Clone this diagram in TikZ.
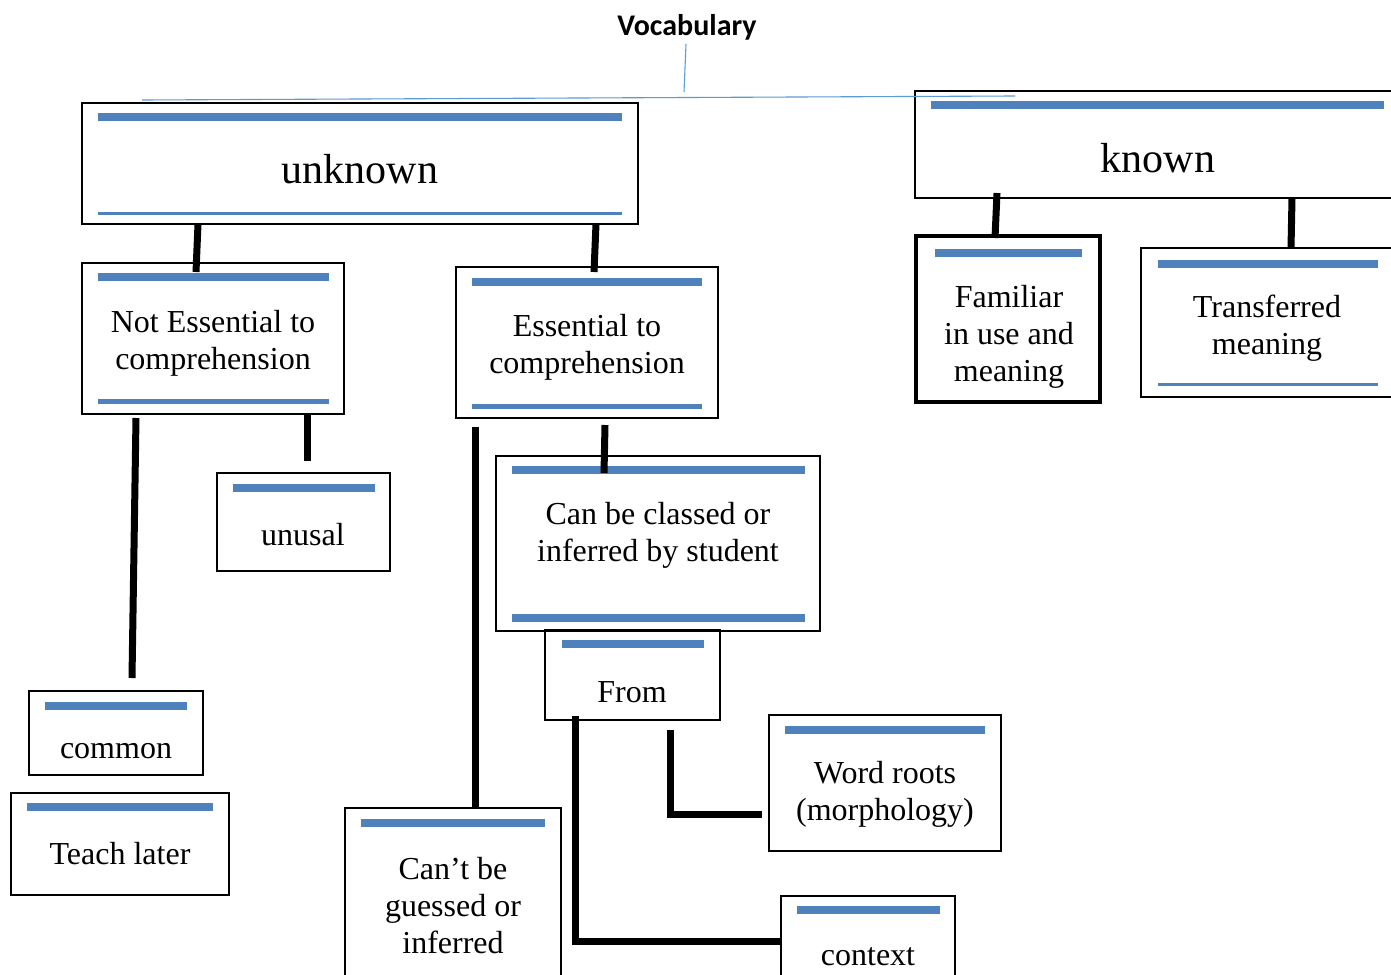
\documentclass[tikz,border=0pt]{standalone}
\usepackage{fontspec}
\setmainfont{Liberation Serif}
\newfontfamily\vocabfont{Carlito}
\definecolor{barblue}{RGB}{79,129,189}
\definecolor{lineblue}{RGB}{91,155,213}
\begin{document}
\begin{tikzpicture}[x=1pt,y=-1pt,
  box/.style={draw=black, line width=1.8pt, rectangle, inner sep=0pt, outer sep=0pt, anchor=north west},
  conn/.style={draw=black, line width=7pt},
  bar/.style={draw=barblue, line width=8pt},
  thinbar/.style={draw=barblue, line width=3pt},
  midbar/.style={draw=barblue, line width=5pt},
  txt/.style={font=\fontsize{32}{37}\selectfont, align=center, inner sep=0pt},
  bigtxt/.style={font=\fontsize{42}{48}\selectfont, inner sep=0pt}]
\useasboundingbox (0,0) rectangle (1391,974);
\clip (0,0) rectangle (1391,974);
\fill[white] (0,0) rectangle (1391,974);

% boxes
\node[box, minimum width=556pt, minimum height=121pt] (unk) at (82,103) {};
\node[box, minimum width=490pt, minimum height=107pt] (known) at (915,91) {};
\node[box, line width=4.5pt, minimum width=184pt, minimum height=166pt] (fam) at (916,236) {};
\node[box, minimum width=262pt, minimum height=149pt] (trans) at (1141,248) {};
\node[box, minimum width=262pt, minimum height=151pt] (notess) at (82,263) {};
\node[box, minimum width=262pt, minimum height=151pt] (ess) at (456,267) {};
\node[box, minimum width=173pt, minimum height=98pt] (unusal) at (217,473) {};
\node[box, minimum width=174pt, minimum height=84pt] (common) at (29,691) {};
\node[box, minimum width=218pt, minimum height=102pt] (teach) at (11,793) {};
\node[box, minimum width=324pt, minimum height=175pt] (canbe) at (496,456) {};
\node[box, minimum width=216pt, minimum height=180pt] (cant) at (345,808) {};
\node[box, minimum width=175pt, minimum height=90pt] (from) at (545,630) {};
\node[box, minimum width=232pt, minimum height=136pt] (word) at (769,715) {};
\node[box, minimum width=174pt, minimum height=90pt] (context) at (781,896) {};

% blue bars
\draw[bar] (98,117) -- (622,117);
\draw[thinbar] (98,213) -- (622,213);
\draw[bar] (931,105) -- (1384,105);
\draw[bar] (935,253) -- (1082,253);
\draw[bar] (1158,263.5) -- (1378,263.5);
\draw[thinbar] (1158,384.5) -- (1378,384.5);
\draw[bar] (98,276.5) -- (329,276.5);
\draw[midbar] (98,401.5) -- (329,401.5);
\draw[bar] (472,281.5) -- (702,281.5);
\draw[midbar] (472,406.5) -- (702,406.5);
\draw[bar] (233,488) -- (375,488);
\draw[bar] (45,705.5) -- (187,705.5);
\draw[bar] (27,807) -- (213,807);
\draw[bar] (512,469.5) -- (805,469.5);
\draw[bar] (512,618) -- (805,618);
\draw[bar] (361,823) -- (545,823);
\draw[bar] (562,644) -- (704,644);
\draw[bar] (785,729.5) -- (985,729.5);
\draw[bar] (797,910) -- (940,910);

% texts
\node[inner sep=0pt, font=\vocabfont\bfseries\fontsize{30}{34}\selectfont] (vocab) at (687,27) {Vocabulary};
\node[bigtxt] (tunk) at (360,169) {unknown};
\node[bigtxt] (tknown) at (1158,158) {known};
\node[txt] (tfam) at (1009,337) {Familiar\\in use and\\meaning};
\node[txt] (ttrans) at (1267,328) {Transferred\\meaning};
\node[txt] (tnotess) at (213,343) {Not Essential to\\comprehension};
\node[txt] (tess) at (587,347) {Essential to\\comprehension};
\node[txt] (tunusal) at (303,535) {unusal};
\node[txt] (tcommon) at (116,751) {common};
\node[txt] (tteach) at (120,854) {Teach later};
\node[txt] (tcanbe) at (658,535) {Can be classed or\\inferred by student};
\node[txt] (tcant) at (453,906) {Can’t be\\guessed or\\inferred};
\node[txt] (tfrom) at (632,692) {From};
\node[txt] (tword) at (885,794) {Word roots\\(morphology)};
\node[txt] (tcontext) at (868,957) {context};

% thin blue lines from Vocabulary
\coordinate (hl) at (142,100);
\coordinate (hr) at (1015,96);
\coordinate (vb) at (684,92);
\draw[lineblue, line width=1.1pt] (686,44) -- (vb);
\draw[lineblue, line width=1.1pt] (hl) -- (hr);

% connectors
\draw[conn] ([xshift=116pt]unk.south west) -- ([xshift=114pt,yshift=-9pt]notess.north west);
\draw[conn] ([xshift=514pt]unk.south west) -- ([xshift=138pt,yshift=-5pt]ess.north west);
\draw[conn] ([xshift=82pt,yshift=5pt]known.south west) -- ([xshift=79pt,yshift=-2pt]fam.north west);
\draw[conn] ([xshift=377pt]known.south west) -- ([xshift=150pt]trans.north west);
\draw[conn] ([xshift=54pt,yshift=-4pt]notess.south west) -- ([xshift=103pt,yshift=13pt]common.north west);
\draw[conn] ([xshift=225pt]notess.south west) -- ([xshift=90pt,yshift=12pt]unusal.north west);
\draw[conn] ([xshift=149pt,yshift=-7pt]ess.south west) -- ([xshift=108pt,yshift=-17pt]canbe.north west);
\draw[conn] ([xshift=19pt,yshift=-9pt]ess.south west) -- ([xshift=130pt]cant.north west);
\draw[conn] ([xshift=125pt,yshift=-10pt]from.south west) |- ([xshift=-7pt,yshift=-99pt]word.north west);
\draw[conn] ([xshift=30pt,yshift=4pt]from.south west) |- ([yshift=-45pt]context.north west);
\end{tikzpicture}
\end{document}
